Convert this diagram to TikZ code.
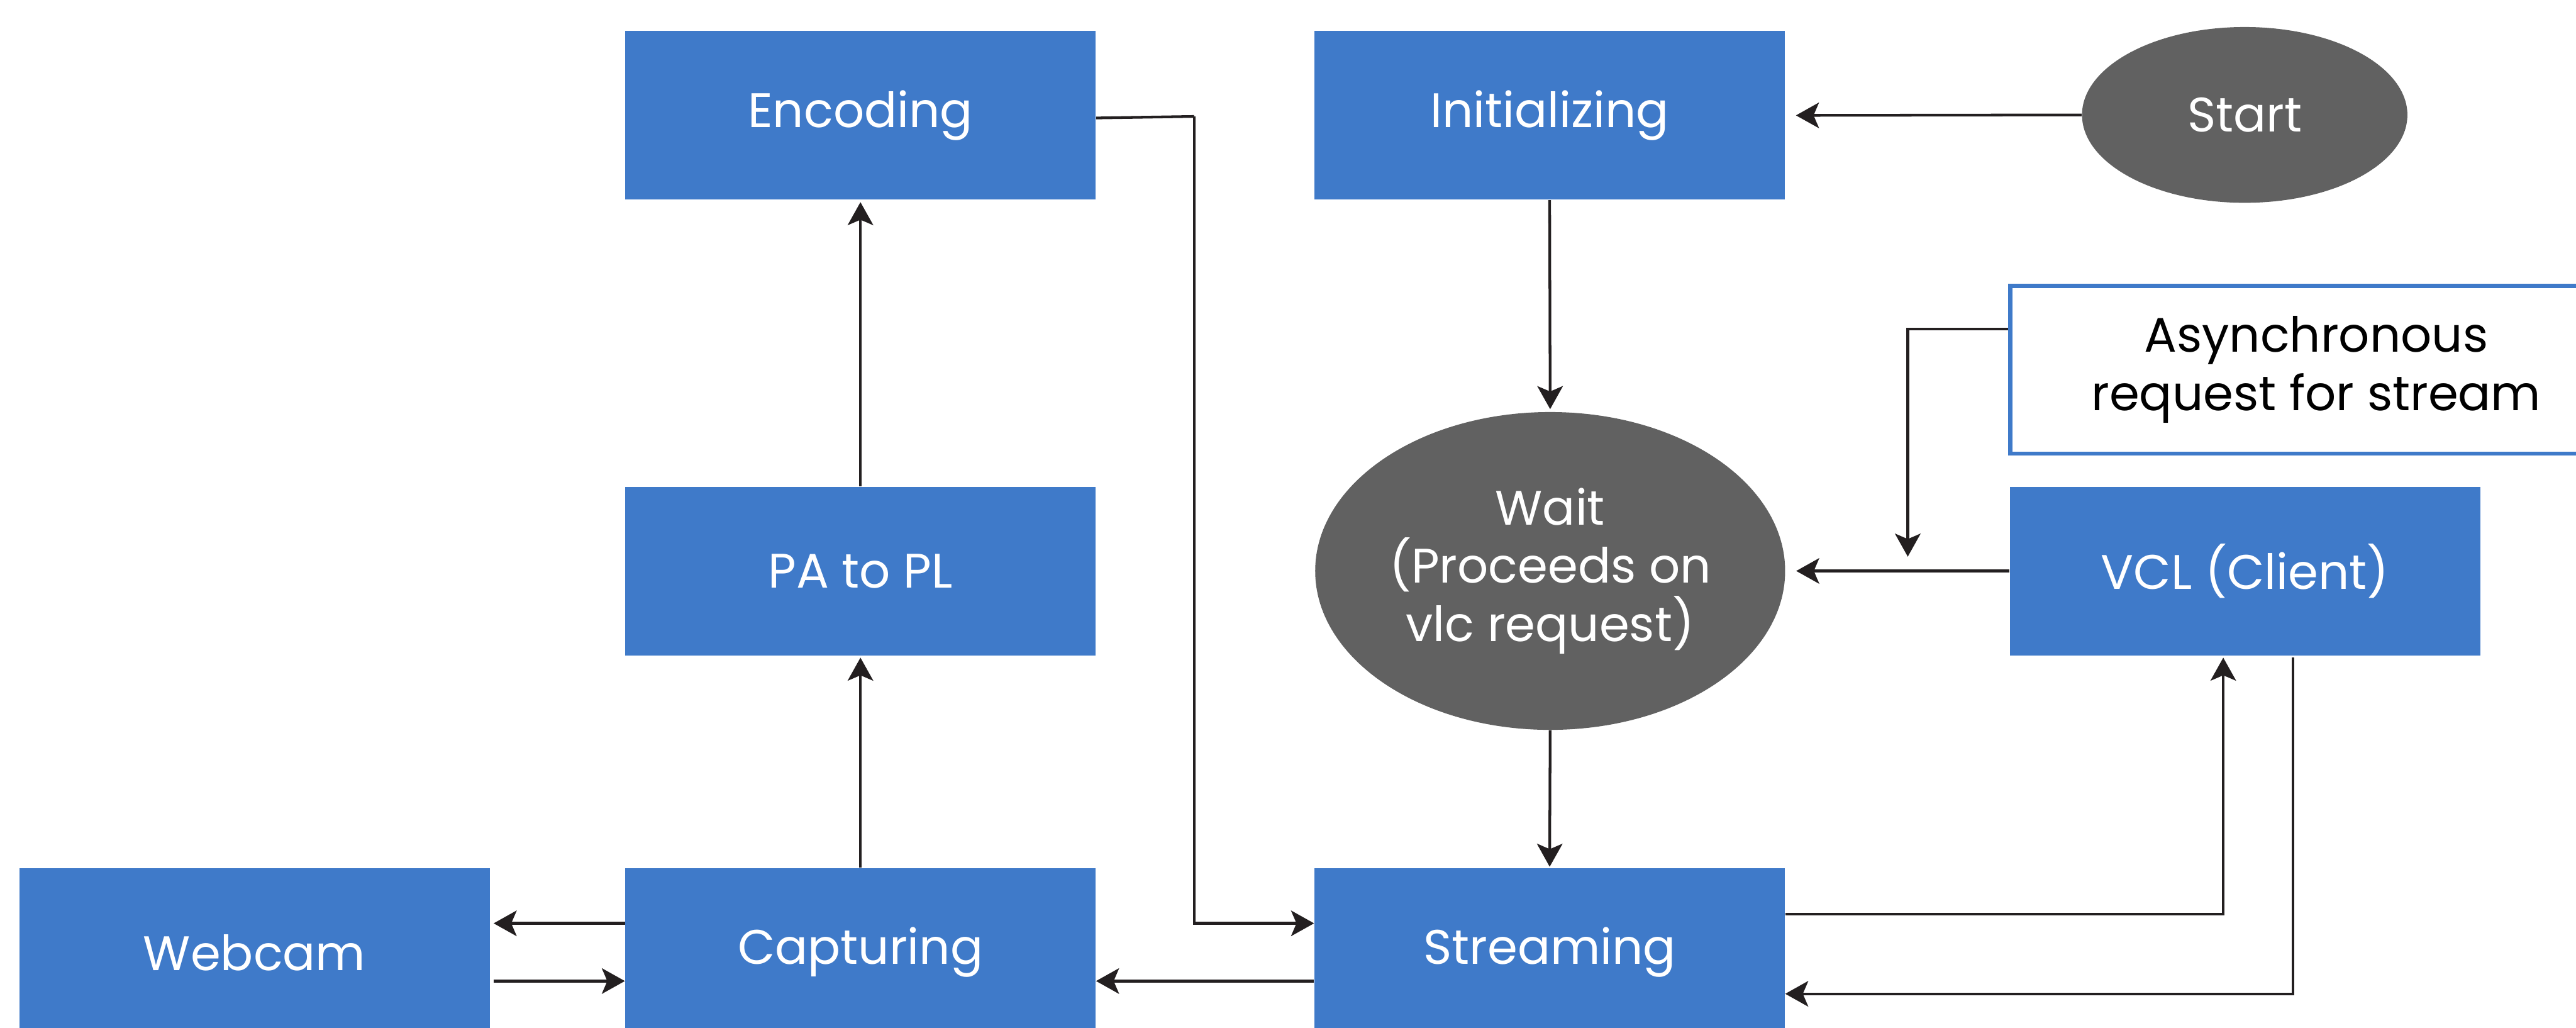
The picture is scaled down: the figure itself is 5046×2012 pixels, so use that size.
\documentclass[tikz,border=0pt]{standalone}
\usepackage{fontspec}
\setmainfont{Poppins}
\usetikzlibrary{arrows.meta,shapes.geometric}

\definecolor{boxblue}{RGB}{63,122,201}
\definecolor{stategray}{RGB}{97,97,97}
\definecolor{linkblack}{RGB}{35,31,32}

\begin{document}
\begin{tikzpicture}[
  x=0.01cm, y=-0.01cm,
  labelfont/.style={font=\fontsize{27}{32.4}\selectfont},
  stepbox/.style={rectangle, fill=boxblue, draw=none, text=white, labelfont,
    inner sep=0pt, minimum width=9.21cm, minimum height=3.30cm, align=center},
  statebubble/.style={ellipse, fill=stategray, draw=none, text=white, labelfont,
    inner sep=0pt, align=center},
  notebox/.style={rectangle, fill=white, draw=boxblue, line width=2.2pt, text=black,
    labelfont, inner sep=0pt, minimum width=11.98cm, minimum height=3.28cm, align=center},
  arr/.style={draw=linkblack, line width=1.5pt,
    -{Stealth[length=12.8pt, width=14.2pt, inset=3pt]}},
  link/.style={draw=linkblack, line width=1.5pt},
]
\useasboundingbox (0,0) rectangle (5046,2012);

% states of the pipeline
\node[stepbox] (enc)    at (1685.5,226)  {Encoding};
\node[stepbox] (init)   at (3035.5,226)  {Initializing};
\node[statebubble, minimum width=6.37cm, minimum height=3.44cm] (start) at (4397,225) {Start};

\node[notebox] (async)  at (4537,724) {Asynchronous\\request for stream};

\node[stepbox] (pa)     at (1685.5,1118) {PA to PL};
\node[statebubble, minimum width=9.20cm, minimum height=6.22cm] (wait) at (3036.5,1118)
  {Wait\\(Proceeds on\\vlc request)};
\node[stepbox] (vcl)    at (4397.5,1118) {VCL (Client)};

\node[stepbox] (webcam) at (498.5,1865)  {Webcam};
\node[stepbox] (cap)    at (1685.5,1865) {Capturing};
\node[stepbox] (stream) at (3035.5,1865) {Streaming};

% free ends and bends
\coordinate (encbend) at (2339,228);
\coordinate (asyncend) at (3737,1090);

% top row and centre column
\draw[arr, shorten >=0.21cm] (start.west) -- (init.east);
\draw[arr, shorten >=0.05cm] (init.south) -- (wait.north);
\draw[arr, shorten >=0.02cm] (wait.south) -- (stream.north);
\draw[arr, shorten >=0.21cm] (vcl.west) -- (wait.east);
\draw[arr] (async.west |- 0,644) -| (asyncend);

% left column
\draw[arr, shorten >=0.04cm] (cap.north) -- (pa.south);
\draw[arr, shorten >=0.04cm] (pa.north) -- (enc.south);
\draw[link] (enc.east |- 0,231) -- (encbend);
\draw[arr] (encbend) |- (stream.west |- 0,1808);

% bottom row
\draw[arr, shorten >=0.07cm] (cap.west |- 0,1808) -- (webcam.east |- 0,1808);
\draw[arr, shorten <=0.07cm] (webcam.east |- 0,1921) -- (cap.west |- 0,1921);
\draw[arr] (stream.west |- 0,1921) -- (cap.east |- 0,1921);

% client loop
\draw[arr, shorten >=0.04cm] (stream.east |- 0,1790) -| (vcl.south -| 4355,0);
\draw[arr, shorten <=0.04cm] (vcl.south -| 4492,0) |- (stream.east |- 0,1946);
\end{tikzpicture}
\end{document}
